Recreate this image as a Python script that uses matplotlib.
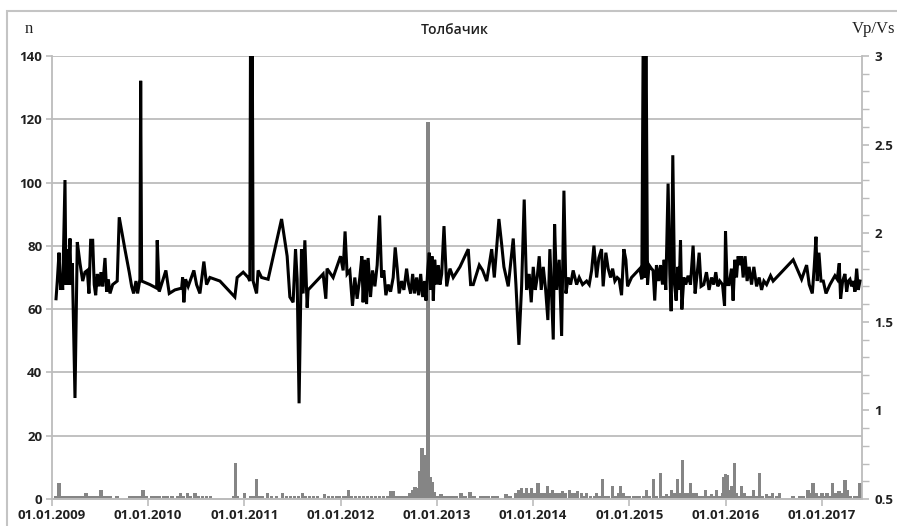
import numpy as np
import pandas as pd
import matplotlib
matplotlib.use("Agg")
import matplotlib.pyplot as plt
import matplotlib.dates as mdates
from matplotlib.patches import Rectangle
from matplotlib.ticker import MultipleLocator, FixedLocator

# Vp/Vs series (right axis): time as decimal year, value
vpvs_time = [
    2009.042, 2009.055, 2009.073, 2009.090, 2009.101, 2009.111, 2009.135, 2009.145, 2009.159, 2009.169,
    2009.187, 2009.197, 2009.211, 2009.239, 2009.263, 2009.291, 2009.319, 2009.343, 2009.367, 2009.384,
    2009.402, 2009.423, 2009.439, 2009.454, 2009.471, 2009.491, 2009.509, 2009.527, 2009.551, 2009.568,
    2009.585, 2009.603, 2009.631, 2009.678, 2009.699, 2009.758, 2009.803, 2009.828, 2009.849, 2009.873,
    2009.890, 2009.914, 2009.922, 2009.932, 2010.018, 2010.088, 2010.094, 2010.115, 2010.150, 2010.184,
    2010.219, 2010.278, 2010.348, 2010.358, 2010.371, 2010.389, 2010.416, 2010.475, 2010.503, 2010.538,
    2010.579, 2010.607, 2010.642, 2010.746, 2010.901, 2010.925, 2010.988, 2011.040, 2011.057, 2011.065,
    2011.073, 2011.081, 2011.091, 2011.127, 2011.143, 2011.179, 2011.247, 2011.387, 2011.445, 2011.473,
    2011.507, 2011.532, 2011.549, 2011.569, 2011.594, 2011.611, 2011.629, 2011.653, 2011.663, 2011.819,
    2011.847, 2011.860, 2011.923, 2012.000, 2012.027, 2012.047, 2012.068, 2012.096, 2012.124, 2012.148,
    2012.172, 2012.200, 2012.221, 2012.234, 2012.252, 2012.270, 2012.286, 2012.311, 2012.332, 2012.356,
    2012.380, 2012.405, 2012.426, 2012.449, 2012.470, 2012.494, 2012.519, 2012.546, 2012.567, 2012.588,
    2012.608, 2012.633, 2012.657, 2012.685, 2012.706, 2012.727, 2012.748, 2012.768, 2012.789, 2012.810,
    2012.831, 2012.852, 2012.872, 2012.886, 2012.904, 2012.920, 2012.935, 2012.948, 2012.962, 2012.976,
    2012.997, 2013.014, 2013.031, 2013.049, 2013.073, 2013.101, 2013.135, 2013.169, 2013.239, 2013.325,
    2013.350, 2013.377, 2013.440, 2013.475, 2013.517, 2013.569, 2013.596, 2013.644, 2013.672, 2013.696,
    2013.741, 2013.793, 2013.821, 2013.852, 2013.880, 2013.907, 2013.932, 2013.959, 2013.980, 2014.001,
    2014.022, 2014.042, 2014.063, 2014.084, 2014.105, 2014.130, 2014.153, 2014.174, 2014.192, 2014.209,
    2014.223, 2014.244, 2014.271, 2014.296, 2014.320, 2014.341, 2014.364, 2014.389, 2014.416, 2014.452,
    2014.479, 2014.514, 2014.556, 2014.583, 2014.608, 2014.632, 2014.660, 2014.683, 2014.711, 2014.728,
    2014.756, 2014.780, 2014.805, 2014.826, 2014.850, 2014.874, 2014.894, 2014.919, 2014.943, 2014.964,
    2014.982, 2015.023, 2015.075, 2015.109, 2015.130, 2015.146, 2015.159, 2015.172, 2015.189, 2015.205,
    2015.230, 2015.247, 2015.264, 2015.282, 2015.306, 2015.324, 2015.345, 2015.362, 2015.379, 2015.403,
    2015.421, 2015.435, 2015.452, 2015.470, 2015.487, 2015.504, 2015.518, 2015.532, 2015.546, 2015.567,
    2015.587, 2015.611, 2015.636, 2015.663, 2015.684, 2015.705, 2015.726, 2015.746, 2015.774, 2015.802,
    2015.829, 2015.854, 2015.878, 2015.899, 2015.920, 2015.941, 2015.969, 2015.990, 2016.000, 2016.017,
    2016.037, 2016.062, 2016.079, 2016.096, 2016.114, 2016.131, 2016.149, 2016.166, 2016.183, 2016.203,
    2016.224, 2016.245, 2016.270, 2016.294, 2016.322, 2016.349, 2016.374, 2016.398, 2016.426, 2016.467,
    2016.494, 2016.702, 2016.789, 2016.841, 2016.868, 2016.900, 2016.920, 2016.938, 2016.951, 2016.969,
    2016.990, 2017.014, 2017.042, 2017.083, 2017.135, 2017.159, 2017.180, 2017.194, 2017.215, 2017.239,
    2017.257, 2017.274, 2017.291, 2017.309, 2017.326, 2017.343, 2017.361, 2017.378, 2017.395,
]
vpvs_value = [
    1.63, 1.73, 1.89, 1.68, 1.75, 1.68, 2.30, 1.71, 1.91, 1.71,
    1.97, 1.71, 1.83, 1.07, 1.95, 1.83, 1.73, 1.78, 1.79, 1.66,
    1.96, 1.96, 1.71, 1.65, 1.77, 1.70, 1.78, 1.70, 1.86, 1.67,
    1.74, 1.66, 1.71, 1.73, 2.09, 1.91, 1.78, 1.70, 1.66, 1.73,
    1.66, 1.74, 2.86, 1.73, 1.71, 1.69, 1.96, 1.67, 1.73, 1.79,
    1.66, 1.68, 1.69, 1.75, 1.61, 1.74, 1.70, 1.79, 1.71, 1.66,
    1.84, 1.71, 1.75, 1.73, 1.64, 1.75, 1.78, 1.75, 1.73, 3.30,
    1.85, 3.30, 1.73, 1.66, 1.79, 1.75, 1.74, 2.08, 1.87, 1.64,
    1.61, 1.91, 1.74, 1.04, 1.91, 1.66, 1.96, 1.58, 1.68, 1.77,
    1.63, 1.80, 1.75, 1.87, 1.79, 2.01, 1.77, 1.79, 1.59, 1.75,
    1.63, 1.75, 1.87, 1.61, 1.85, 1.60, 1.86, 1.64, 1.79, 1.70,
    1.82, 2.10, 1.75, 1.79, 1.65, 1.71, 1.67, 1.75, 1.92, 1.80,
    1.66, 1.73, 1.68, 1.80, 1.71, 1.66, 1.77, 1.66, 1.75, 1.65,
    1.77, 1.64, 1.73, 1.62, 1.79, 1.89, 1.68, 1.87, 1.62, 1.85,
    1.71, 1.82, 1.71, 1.77, 2.04, 1.70, 1.80, 1.75, 1.81, 1.91,
    1.71, 1.71, 1.82, 1.79, 1.73, 1.91, 1.75, 2.08, 1.94, 1.81,
    1.70, 1.97, 1.71, 1.37, 1.70, 2.19, 1.68, 1.77, 1.61, 1.81,
    1.68, 1.75, 1.87, 1.68, 1.81, 1.68, 1.51, 1.91, 1.64, 1.40,
    2.05, 1.68, 1.85, 1.42, 2.24, 1.66, 1.75, 1.71, 1.79, 1.71,
    1.75, 1.71, 1.73, 1.71, 1.79, 1.93, 1.75, 1.86, 1.91, 1.70,
    1.89, 1.80, 1.75, 1.80, 1.73, 1.75, 1.74, 1.65, 1.91, 1.85,
    1.70, 1.75, 1.78, 1.80, 1.74, 3.30, 1.75, 3.30, 1.71, 1.82,
    1.80, 1.79, 1.62, 1.82, 1.73, 1.82, 1.71, 1.85, 1.68, 2.28,
    1.77, 1.56, 2.44, 1.71, 1.62, 1.81, 1.68, 1.96, 1.57, 1.75,
    1.71, 1.76, 1.71, 1.93, 1.66, 1.77, 1.89, 1.70, 1.71, 1.78,
    1.68, 1.75, 1.71, 1.78, 1.70, 1.73, 1.71, 1.59, 2.01, 1.71,
    1.71, 1.80, 1.62, 1.85, 1.75, 1.87, 1.82, 1.87, 1.75, 1.87,
    1.73, 1.81, 1.71, 1.81, 1.70, 1.75, 1.68, 1.73, 1.71, 1.76,
    1.73, 1.85, 1.74, 1.82, 1.71, 1.66, 1.81, 1.98, 1.73, 1.89,
    1.73, 1.73, 1.66, 1.71, 1.76, 1.74, 1.83, 1.63, 1.73, 1.77,
    1.67, 1.73, 1.74, 1.70, 1.73, 1.67, 1.80, 1.68, 1.73,
]

# number of events n (left axis, grey columns)
n_time = [
    2009.042, 2009.073, 2009.104, 2009.135, 2009.166, 2009.197, 2009.229, 2009.260, 2009.291, 2009.322,
    2009.353, 2009.384, 2009.416, 2009.447, 2009.478, 2009.509, 2009.540, 2009.571, 2009.603, 2009.675,
    2009.810, 2009.842, 2009.873, 2009.904, 2009.946, 2009.977,
    2010.039, 2010.081, 2010.122, 2010.164, 2010.205, 2010.247, 2010.309, 2010.340, 2010.371, 2010.413,
    2010.444, 2010.486, 2010.527, 2010.569, 2010.610, 2010.652, 2010.891, 2010.912, 2010.933,
    2011.005, 2011.068, 2011.099, 2011.130, 2011.161, 2011.192, 2011.244, 2011.286, 2011.338, 2011.400,
    2011.442, 2011.483, 2011.525, 2011.566, 2011.608, 2011.639, 2011.681, 2011.722, 2011.764, 2011.837,
    2011.878, 2011.920, 2011.961, 2011.992,
    2012.034, 2012.065, 2012.086, 2012.117, 2012.159, 2012.200, 2012.242, 2012.283, 2012.325, 2012.366,
    2012.408, 2012.449, 2012.491, 2012.522, 2012.553, 2012.585, 2012.626, 2012.657, 2012.688, 2012.720,
    2012.751, 2012.772, 2012.803, 2012.824, 2012.844, 2012.865, 2012.886, 2012.907, 2012.927, 2012.948,
    2012.969,
    2013.000, 2013.042, 2013.073, 2013.114, 2013.156, 2013.198, 2013.250, 2013.291, 2013.343, 2013.385,
    2013.457, 2013.499, 2013.540, 2013.582, 2013.624, 2013.717, 2013.759, 2013.821, 2013.852, 2013.883,
    2013.914, 2013.935, 2013.966, 2013.987,
    2014.018, 2014.050, 2014.081, 2014.122, 2014.153, 2014.185, 2014.205, 2014.237, 2014.278, 2014.309,
    2014.340, 2014.382, 2014.413, 2014.444, 2014.465, 2014.507, 2014.538, 2014.559, 2014.600, 2014.642,
    2014.663, 2014.694, 2014.725, 2014.756, 2014.787, 2014.829, 2014.860, 2014.891, 2014.912, 2014.943,
    2014.974,
    2015.005, 2015.047, 2015.078, 2015.109, 2015.151, 2015.182, 2015.213, 2015.255, 2015.286, 2015.328,
    2015.359, 2015.390, 2015.411, 2015.442, 2015.473, 2015.504, 2015.525, 2015.556, 2015.587, 2015.608,
    2015.639, 2015.670, 2015.702, 2015.733, 2015.764, 2015.795, 2015.826, 2015.857, 2015.878, 2015.909,
    2015.941, 2015.972, 2015.982,
    2016.003, 2016.024, 2016.044, 2016.065, 2016.096, 2016.117, 2016.138, 2016.169, 2016.200, 2016.231,
    2016.263, 2016.294, 2016.325, 2016.356, 2016.387, 2016.429, 2016.460, 2016.491, 2016.533, 2016.564,
    2016.699, 2016.772, 2016.813, 2016.855, 2016.886, 2016.907, 2016.938, 2016.969,
    2017.000, 2017.031, 2017.052, 2017.083, 2017.114, 2017.146, 2017.177, 2017.208, 2017.239, 2017.270,
    2017.301, 2017.343, 2017.374, 2017.395,
]
n_value = [
    1, 5.2, 1, 1, 1, 1, 1, 1, 1, 1,
    2, 1, 1, 1, 1, 3, 1, 1, 1, 1,
    1, 1, 1, 1, 3, 1,
    1, 1, 1, 1, 1, 1, 1, 2, 1, 2,
    1, 2, 1, 1, 1, 1, 1, 11.3, 1,
    2, 1, 1, 6.3, 1, 1, 2, 1, 1, 2,
    1, 1, 1, 1, 2, 1, 1, 1, 1, 1.5,
    1, 1, 1, 1,
    1, 1, 3, 1, 1, 1, 1, 1, 1, 1,
    1, 1, 1, 2.5, 2.5, 1, 1, 1, 1, 2,
    3, 3.7, 3.5, 9, 16, 14, 8, 119, 7, 5.5,
    2.3,
    1, 1.5, 1, 1, 1, 1, 2, 1, 2.2, 1,
    1, 1, 1, 1, 1, 1.5, 1, 2, 3, 3.5,
    2, 3.5, 2, 3.5,
    2, 5.2, 2, 2, 4, 2, 3, 2, 2, 2.5,
    2, 3, 2, 2, 2.5, 2, 1, 2, 1, 1,
    2, 1, 6.2, 1, 1, 4.1, 1, 2, 4.1, 2,
    1,
    1, 1, 1, 1, 1, 3, 1, 6.2, 1, 8.3,
    1, 1.5, 1, 3, 2, 6.2, 2, 12.3, 2, 2,
    5.2, 2, 2, 1, 1, 3, 1, 1.5, 1, 3,
    1, 2, 7,
    8, 7.5, 3, 4.1, 11.3, 2, 1, 4.1, 2, 1,
    1, 3, 1, 8.1, 1, 1.5, 1, 2, 1, 2,
    1, 1, 1, 3, 2, 5.2, 2, 1,
    2, 1, 2, 1, 5.2, 2, 2.5, 2, 6, 3,
    1, 1, 1, 5.2,
]

year_ticks = [2009, 2010, 2011, 2012, 2013, 2014, 2015, 2016, 2017]


def to_dates(years):
    out = []
    for t in years:
        y = int(t)
        start = pd.Timestamp(y, 1, 1)
        length = (pd.Timestamp(y + 1, 1, 1) - start).days
        out.append(start + pd.Timedelta(days=(t - y) * length))
    return out


vpvs_dates = to_dates(vpvs_time)
n_dates = to_dates(n_time)

grid_c = '#bcbcbc'
txt_c = '#202020'
tick_font = dict(family='Open Sans', size=9.5, weight='bold')

fig = plt.figure(figsize=(8.97, 5.26), dpi=100)
ax = fig.add_axes([52 / 897, 27 / 526, 810 / 897, 443 / 526])
ax2 = ax.twinx()

# chart border
fig.patches.append(Rectangle((7 / 897, -0.05), 1.0, 1.05 - 11 / 526, transform=fig.transFigure,
                             fill=False, edgecolor='#c4c4c4', linewidth=1.5))

ax.bar(n_dates, n_value, width=12, color='#858585', linewidth=0, zorder=2)
ax2.plot(vpvs_dates, vpvs_value, color='black', linewidth=2.2, solid_joinstyle='miter', zorder=3)

ax.set_ylim(0, 140)
ax.set_yticks(np.arange(0, 141, 20))
ax.grid(axis='y', color=grid_c, linewidth=1.3, zorder=0)
ax.set_axisbelow(True)
ax2.set_ylim(0.5, 3)
ax2.yaxis.set_major_locator(FixedLocator([0.5, 1, 1.5, 2, 2.5, 3]))
ax2.yaxis.set_minor_locator(MultipleLocator(0.1))
ax2.set_yticklabels(['0.5', '1', '1.5', '2', '2.5', '3'])

ax.set_xlim(pd.Timestamp(2009, 1, 1), pd.Timestamp(2017, 6, 2))
ax.xaxis.set_major_locator(FixedLocator(mdates.date2num([pd.Timestamp(y, 1, 1) for y in year_ticks])))
ax.xaxis.set_major_formatter(mdates.DateFormatter('%d.%m.%Y'))

for a in (ax, ax2):
    for s in a.spines.values():
        s.set_color(grid_c)
        s.set_linewidth(1.3)
    a.spines['top'].set_visible(False)
ax.spines['right'].set_visible(False)
ax2.spines['left'].set_visible(False)

ax.tick_params(axis='y', length=4, width=1.2, color=grid_c, pad=3, labelcolor=txt_c)
ax.tick_params(axis='x', length=5, width=1.2, color=grid_c, pad=2, labelcolor=txt_c)
ax2.tick_params(axis='y', which='major', length=5, width=1.2, color=grid_c, pad=4, labelcolor=txt_c)
ax2.tick_params(axis='y', which='minor', length=5, width=1.0, color=grid_c)
for lab in ax.get_xticklabels() + ax.get_yticklabels() + ax2.get_yticklabels():
    lab.set_fontproperties(tick_font)

fig.text(455 / 897, 1 - 30 / 526, 'Толбачик', ha='center', va='center',
         family='Open Sans', fontsize=10, weight='semibold', color=txt_c)
fig.text(29 / 897, 1 - 29 / 526, 'n', ha='center', va='center',
         family='Liberation Serif', fontsize=12, color=txt_c)
fig.text(895 / 897, 1 - 29 / 526, 'Vp/Vs', ha='right', va='center',
         family='Liberation Serif', fontsize=12, color=txt_c)

fig.savefig('out.png', dpi=100)
